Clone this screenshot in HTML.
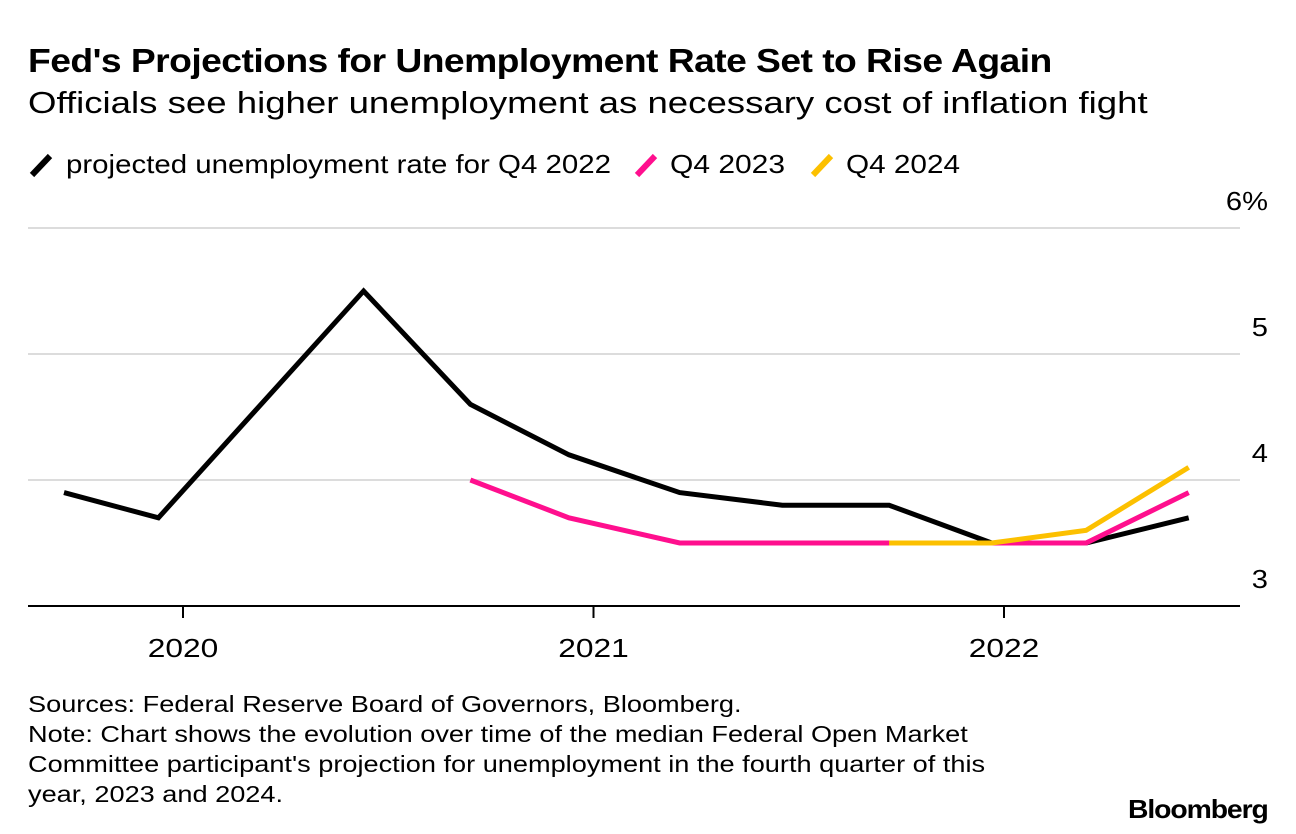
<!DOCTYPE html>
<html><head><meta charset="utf-8"><style>
body{margin:0;width:1296px;height:834px;background:#fff;font-family:"Liberation Sans",sans-serif;color:#000;overflow:hidden;position:relative}
.t{position:absolute;white-space:nowrap;transform-origin:0 0}
</style></head><body>
<div class="t" style="left:28px;top:42px;font-size:33px;font-weight:bold;letter-spacing:-0.5px;transform:scaleX(1.13)">Fed's Projections for Unemployment Rate Set to Rise Again</div>
<div class="t" style="left:28px;top:85px;font-size:31px;transform:scaleX(1.18)">Officials see higher unemployment as necessary cost of inflation fight</div>
<svg width="1296" height="834" style="position:absolute;left:0;top:0" id="chart">
<g font-size="26">
<line x1="32" y1="175" x2="50" y2="156" stroke="#000" stroke-width="6"/>
<text x="66" y="173" textLength="545" lengthAdjust="spacingAndGlyphs">projected unemployment rate for Q4 2022</text>
<line x1="637" y1="175" x2="655" y2="156" stroke="#ff0f8e" stroke-width="6"/>
<text x="670" y="173" textLength="115" lengthAdjust="spacingAndGlyphs">Q4 2023</text>
<line x1="813" y1="175" x2="831" y2="156" stroke="#fcc000" stroke-width="6"/>
<text x="846" y="173" textLength="114" lengthAdjust="spacingAndGlyphs">Q4 2024</text>
</g>
<g id="grid"></g><g id="series"></g>
</svg>
<div class="t" style="left:28px;top:689px;font-size:23px;line-height:30px;transform:scaleX(1.18)">Sources: Federal Reserve Board of Governors, Bloomberg.<br>Note: Chart shows the evolution over time of the median Federal Open Market<br>Committee participant's projection for unemployment in the fourth quarter of this<br>year, 2023 and 2024.</div>
<div class="t" style="left:1128px;top:794px;font-size:26px;font-weight:bold;letter-spacing:-1px;transform:scaleX(1.09)">Bloomberg</div>
<script>
const dates=[2019.71,2019.94,2020.44,2020.70,2020.94,2021.21,2021.46,2021.72,2021.97,2022.20,2022.45];
const q2022=[3.9,3.7,5.5,4.6,4.2,3.9,3.8,3.8,3.5,3.5,3.7];
const q2023=[null,null,null,4.0,3.7,3.5,3.5,3.5,3.5,3.5,3.9];
const q2024=[null,null,null,null,null,null,null,3.5,3.5,3.6,4.1];
const yTicks=[3,4,5,6];
const yTickLabels=["3","4","5","6%"];
const xTicks=[2020,2021,2022];
const NS="http://www.w3.org/2000/svg";
const x=d=>183+(d-2020)*410.5;
const y=v=>606-(v-3)*126;
const grid=document.getElementById('grid'),ser=document.getElementById('series');
function mk(tag,attrs,parent){const e=document.createElementNS(NS,tag);for(const k in attrs)e.setAttribute(k,attrs[k]);parent.appendChild(e);return e;}
yTicks.forEach((v,i)=>{
  if(v>3){const l=mk('line',{x1:28,x2:1240,y1:y(v),y2:y(v),stroke:'#dcdcdc','stroke-width':2},grid);
  
  }
  const t=mk('text',{x:1268,y:y(v)-18,'text-anchor':'end','font-size':26,transform:'translate(1268 0) scale(1.12 1) translate(-1268 0)'},grid);
  t.textContent=yTickLabels[i];
  
  
});
const ax=mk('line',{x1:28,x2:1240,y1:606,y2:606,stroke:'#000','stroke-width':2},grid);


xTicks.forEach(d=>{
  const tk=mk('line',{x1:x(d),x2:x(d),y1:606,y2:618,stroke:'#000','stroke-width':2},grid);
  
  
  const t=mk('text',{x:x(d),y:657,'text-anchor':'middle','font-size':26,transform:`translate(${x(d)} 0) scale(1.22 1) translate(${-x(d)} 0)`},grid);
  t.textContent=d;
  
  
});
function line(vals,color,name){
  const pts=[];vals.forEach((v,i)=>{if(v!=null)pts.push(x(dates[i]).toFixed(1)+','+y(v).toFixed(1));});
  const p=mk('polyline',{points:pts.join(' '),fill:'none',stroke:color,'stroke-width':5,'stroke-linejoin':'miter'},ser);
  
  
}
line(q2022,'#000','line-q4-2022');
line(q2023,'#ff0f8e','line-q4-2023');
line(q2024,'#fcc000','line-q4-2024');
</script>
</body></html>
